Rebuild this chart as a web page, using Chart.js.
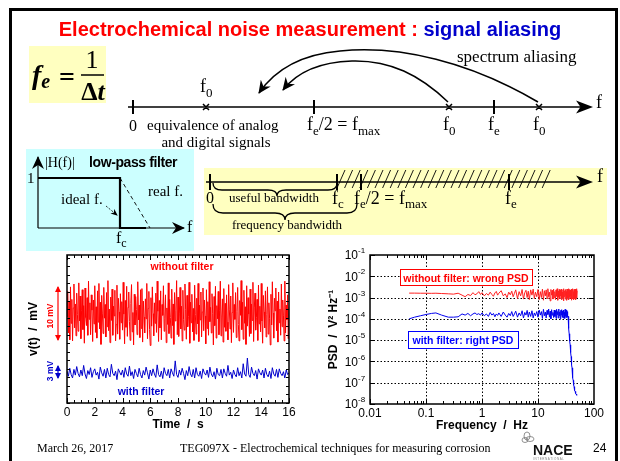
<!DOCTYPE html>
<html>
<head>
<meta charset="utf-8">
<script src="https://cdn.jsdelivr.net/npm/chart.js@4.4.0/dist/chart.umd.min.js"></script>
<style>
  html, body { margin: 0; padding: 0; background: #fff; }
  body { width: 620px; height: 461px; position: relative; overflow: hidden; }
  canvas { position: absolute; }
  #noise { left: 20px; top: 245px; }
  #psd { left: 320px; top: 245px; }
  #deco { position: absolute; left: 0; top: 0; pointer-events: none; }
</style>
</head>
<body>
<canvas id="noise" width="290" height="190"></canvas>
<canvas id="psd" width="290" height="190"></canvas>

<svg id="deco" width="620" height="461" viewBox="0 0 620 461" font-family="'Liberation Serif', 'Times New Roman', serif">
  <defs>
    <marker id="ah" markerUnits="userSpaceOnUse" markerWidth="14" markerHeight="12" refX="12" refY="6" orient="auto">
      <path d="M0,0 L13,6 L0,12 L4,6 Z" fill="#000"/>
    </marker>
    <marker id="ahSmall" markerUnits="userSpaceOnUse" markerWidth="7" markerHeight="6" refX="6" refY="3" orient="auto">
      <path d="M0,0 L7,3 L0,6 L2,3 Z" fill="#000"/>
    </marker>
    <marker id="ahRed" markerUnits="userSpaceOnUse" markerWidth="6" markerHeight="6" refX="5" refY="3" orient="auto-start-reverse">
      <path d="M0,0 L6,3 L0,6 Z" fill="#ff0000"/>
    </marker>
    <marker id="ahBlue" markerUnits="userSpaceOnUse" markerWidth="6" markerHeight="6" refX="5" refY="3" orient="auto-start-reverse">
      <path d="M0,0 L6,3 L0,6 Z" fill="#0000cc"/>
    </marker>
  </defs>

  <!-- slide frame -->
  <rect x="10.5" y="9.5" width="606" height="470" fill="none" stroke="#000" stroke-width="3"/>

  <text x="310" y="36" text-anchor="middle" font-family="'Liberation Sans', Arial, sans-serif" font-weight="bold" font-size="20"><tspan fill="#ff0000">Electrochemical noise measurement : </tspan><tspan fill="#0000cc">signal aliasing</tspan></text>

  <!-- fe = 1 / dt -->
  <rect x="29" y="46" width="77" height="57" fill="#ffffc0"/>
  <text x="32" y="84" font-size="28" font-weight="bold" font-style="italic">f<tspan font-size="20" dy="4">e</tspan></text>
  <text x="59" y="86" font-size="28" font-weight="bold">=</text>
  <text x="92" y="68" font-size="26" text-anchor="middle">1</text>
  <line x1="81" y1="75" x2="104" y2="75" stroke="#000" stroke-width="1.5"/>
  <text x="93" y="100" font-size="26" text-anchor="middle" font-weight="bold">Δ<tspan font-style="italic">t</tspan></text>

  <!-- aliasing axis -->
  <line x1="128" y1="107" x2="582" y2="107" stroke="#000" stroke-width="1.5"/>
  <path d="M593,107 L576,100.5 L580.5,107 L576,113.5 Z" fill="#000"/>
  <text x="596" y="108" font-size="18">f</text>
  <path d="M133,100V114 M314,100V114 M494,100V114" stroke="#000" stroke-width="2"/>
  <path d="M203,104 l6,6 m0,-6 l-6,6 M446,104 l6,6 m0,-6 l-6,6 M536,104 l6,6 m0,-6 l-6,6" stroke="#000" stroke-width="1.5"/>
  <path d="M538,102 C470,62 400,45 340,51 C295,55 272,74 259,93" fill="none" stroke="#000" stroke-width="1.5" marker-end="url(#ah)"/>
  <path d="M448,102 C420,75 390,60 352,61 C320,62 297,72 283,90" fill="none" stroke="#000" stroke-width="1.5" marker-end="url(#ah)"/>
  <text x="457" y="62" font-size="17">spectrum aliasing</text>
  <text x="200" y="92" font-size="18">f<tspan font-size="13" dy="5">0</tspan></text>
  <text x="133" y="131" font-size="16" text-anchor="middle">0</text>
  <text x="147" y="130" font-size="15">equivalence of analog</text>
  <text x="216" y="147" font-size="15" text-anchor="middle">and digital signals</text>
  <text x="307" y="130" font-size="18">f<tspan font-size="13" dy="5">e</tspan><tspan dy="-5">/2 = f</tspan><tspan font-size="13" dy="5">max</tspan></text>
  <text x="443" y="130" font-size="18">f<tspan font-size="13" dy="5">0</tspan></text>
  <text x="488" y="130" font-size="18">f<tspan font-size="13" dy="5">e</tspan></text>
  <text x="533" y="130" font-size="18">f<tspan font-size="13" dy="5">0</tspan></text>

  <!-- low-pass filter inset -->
  <rect x="26" y="149" width="168" height="102" fill="#ccffff"/>
  <line x1="38" y1="228" x2="38" y2="157" stroke="#000" stroke-width="1.2" marker-end="url(#ah)"/>
  <line x1="38" y1="228" x2="184" y2="228" stroke="#000" stroke-width="1.2" marker-end="url(#ah)"/>
  <text x="187" y="232" font-size="16">f</text>
  <text x="45" y="167" font-size="14">|H(f)|</text>
  <text x="89" y="167" font-size="14" font-weight="bold" font-family="'Liberation Sans', Arial, sans-serif" letter-spacing="-0.4">low-pass filter</text>
  <text x="27" y="183" font-size="15">1</text>
  <path d="M38,178 H120 V228 H146" fill="none" stroke="#000" stroke-width="2.2"/>
  <line x1="120" y1="178" x2="150" y2="228" stroke="#000" stroke-width="0.9" stroke-dasharray="4,3"/>
  <text x="148" y="196" font-size="15">real f.</text>
  <text x="61" y="204" font-size="15">ideal f.</text>
  <line x1="106" y1="206" x2="117" y2="215" stroke="#000" stroke-width="0.8" stroke-dasharray="2,1.5" marker-end="url(#ahSmall)"/>
  <text x="116" y="243" font-size="16">f<tspan font-size="12" dy="4">c</tspan></text>

  <!-- bandwidth strip -->
  <rect x="204" y="168" width="403" height="67" fill="#ffffc0"/>
  <g id="hatch" stroke="#000" stroke-width="0.9"></g>
  <line x1="206" y1="182" x2="582" y2="182" stroke="#000" stroke-width="1.5"/>
  <path d="M593,182 L576,175.5 L580.5,182 L576,188.5 Z" fill="#000"/>
  <text x="597" y="182" font-size="18">f</text>
  <path d="M210,174V190 M337,174V190 M361,174V190 M509,174V190" stroke="#000" stroke-width="2"/>
  <path d="M213,183 Q213,190 222,190 H268 Q277,190 277,196 Q277,190 286,190 H328 Q337,190 337,183" fill="none" stroke="#000" stroke-width="1.3"/>
  <path d="M213,204 Q213,213 223,213 H275 Q285,213 285,220 Q285,213 295,213 H347 Q357,213 357,204" fill="none" stroke="#000" stroke-width="1.3"/>
  <text x="210" y="203" font-size="16" text-anchor="middle">0</text>
  <text x="229" y="202" font-size="13">useful bandwidth</text>
  <text x="332" y="204" font-size="18">f<tspan font-size="13" dy="4">c</tspan></text>
  <text x="354" y="204" font-size="18">f<tspan font-size="13" dy="4">e</tspan><tspan dy="-4">/2 = f</tspan><tspan font-size="13" dy="4">max</tspan></text>
  <text x="505" y="204" font-size="18">f<tspan font-size="13" dy="4">e</tspan></text>
  <text x="287" y="229" font-size="13" text-anchor="middle">frequency bandwidth</text>

  <!-- noise chart annotations -->
  <g font-family="'Liberation Sans', Arial, sans-serif" font-weight="bold">
    <text x="182" y="270" font-size="10.5" fill="#ff0000" text-anchor="middle">without filter</text>
    <text x="141" y="395" font-size="10.5" fill="#0000cc" text-anchor="middle">with filter</text>
    <text transform="translate(53,316) rotate(-90)" font-size="8.5" fill="#ff0000" text-anchor="middle">10 mV</text>
    <text transform="translate(53,371) rotate(-90)" font-size="8.5" fill="#0000cc" text-anchor="middle">3 mV</text>
    <line x1="58" y1="287" x2="58" y2="340" stroke="#ff0000" stroke-width="1.2" marker-start="url(#ahRed)" marker-end="url(#ahRed)"/>
    <line x1="58" y1="366" x2="58" y2="378" stroke="#0000cc" stroke-width="1.2" marker-start="url(#ahBlue)" marker-end="url(#ahBlue)"/>

    <rect x="400.5" y="269.5" width="132" height="16" fill="#fff" stroke="#ff0000" stroke-width="1"/>
    <text x="466" y="281.5" font-size="10.5" fill="#ff0000" text-anchor="middle">without filter: wrong PSD</text>
    <rect x="408.5" y="331.5" width="110" height="17" fill="#fff" stroke="#0000ff" stroke-width="1"/>
    <text x="463" y="343.5" font-size="10.5" fill="#0000ff" text-anchor="middle">with filter: right PSD</text>
  </g>

  <!-- footer -->
  <text x="37" y="452" font-size="12">March 26, 2017</text>
  <text x="180" y="452" font-size="12">TEG097X - Electrochemical techniques for measuring corrosion</text>
  <g fill="none" stroke="#777" stroke-width="0.8">
    <ellipse cx="527" cy="436" rx="3" ry="4"/>
    <ellipse cx="530" cy="439" rx="4" ry="2.5"/>
    <ellipse cx="525" cy="440" rx="3" ry="2.5"/>
  </g>
  <text x="533" y="455" font-size="14" font-weight="bold" font-family="'Liberation Sans', Arial, sans-serif" fill="#111">NACE</text>
  <text x="533" y="459.5" font-size="3" font-family="'Liberation Sans', Arial, sans-serif" fill="#888" letter-spacing="0.6">INTERNATIONAL</text>
  <text x="593" y="452" font-size="12" font-family="'Liberation Sans', Arial, sans-serif">24</text>
</svg>

<script>
// hatching over the aliased part of the bandwidth strip
const hatch = document.getElementById('hatch');
for (let xTop = 345; xTop <= 553; xTop += 7.6) {
  const l = document.createElementNS('http://www.w3.org/2000/svg', 'line');
  l.setAttribute('x1', xTop - 8); l.setAttribute('y1', 188);
  l.setAttribute('x2', xTop); l.setAttribute('y2', 170);
  hatch.appendChild(l);
}

// ---- time records v(t) in mV (offset for display), raw every RAW_DT s, filtered every FILTERED_DT s
const RAW_DT = 0.05;
const FILTERED_DT = 0.1;
const noiseRaw = [
  15.2, 19.6, 12.3, 17.9, 11.1, 20.4, 14.0, 18.2, 10.9, 16.7,
  20.9, 13.2, 17.4, 11.8, 19.3, 15.5, 12.6, 21.1, 14.4, 18.8,
  11.3, 16.2, 19.9, 12.9, 17.1, 10.5, 20.2, 15.0, 13.6, 18.5,
  11.9, 21.4, 14.7, 17.6, 12.0, 19.0, 16.3, 10.8, 18.1, 13.9,
  20.6, 12.4, 16.9, 11.4, 19.7, 14.2, 21.0, 13.0, 17.7, 10.3,
  18.9, 15.8, 12.2, 20.3, 14.9, 17.3, 11.6, 19.4, 13.4, 21.5,
  12.7, 16.5, 10.6, 18.6, 14.5, 20.0, 11.9, 17.0, 15.3, 19.8,
  10.9, 13.8, 20.7, 12.1, 18.4, 16.0, 11.2, 19.2, 14.1, 17.8,
  12.8, 21.2, 15.6, 10.4, 18.0, 13.3, 20.5, 11.7, 16.8, 19.5,
  14.3, 11.0, 17.5, 20.8, 12.5, 15.9, 10.2, 19.1, 13.7, 18.7,
  16.4, 12.0, 21.3, 14.6, 17.2, 11.5, 19.9, 13.1, 20.1, 10.7,
  17.9, 15.1, 12.3, 18.3, 14.8, 21.0, 11.3, 16.6, 19.6, 12.9,
  10.1, 18.5, 13.5, 20.4, 15.7, 11.8, 17.6, 14.0, 19.3, 12.4,
  21.4, 16.1, 10.8, 18.0, 13.2, 19.7, 11.1, 17.3, 15.4, 20.6,
  12.6, 14.9, 19.0, 10.6, 16.7, 13.8, 21.1, 12.2, 18.2, 15.0,
  11.4, 20.0, 13.6, 17.4, 10.3, 19.4, 14.4, 16.2, 21.5, 12.0,
  18.6, 11.7, 15.8, 20.3, 13.0, 17.0, 10.9, 19.8, 14.7, 12.8,
  20.9, 16.4, 11.2, 18.9, 13.4, 15.2, 21.2, 10.5, 17.7, 14.1,
  19.1, 12.5, 16.6, 11.0, 20.7, 15.6, 12.1, 18.4, 13.9, 21.0,
  10.8, 17.2, 14.6, 19.5, 11.6, 16.0, 20.2, 12.7, 18.1, 15.3,
  10.4, 19.9, 13.1, 17.8, 11.9, 21.3, 14.3, 16.8, 12.3, 19.2,
  15.7, 10.2, 18.7, 13.6, 20.5, 11.4, 17.1, 14.8, 19.6, 12.0,
  16.3, 21.4, 11.8, 15.1, 18.3, 10.7, 20.1, 13.3, 17.5, 12.6,
  19.0, 14.2, 11.1, 20.8, 16.5, 13.0, 18.8, 10.6, 15.9, 21.1,
  12.4, 17.3, 14.7, 19.4, 11.5, 16.1, 20.3, 13.8, 10.9, 18.0,
  15.4, 21.5, 12.9, 17.7, 11.2, 19.8, 14.0, 16.9, 10.3, 20.6,
  13.5, 18.5, 15.6, 11.7, 20.0, 12.2, 17.4, 14.5, 21.2, 10.8,
  16.7, 19.3, 12.8, 15.0, 18.2, 11.0, 20.7, 13.9, 17.0, 12.5,
  21.0, 14.4, 10.5, 18.9, 16.0, 13.2, 19.7, 11.6, 15.5, 20.4,
  12.1, 17.6, 14.9, 10.2, 19.1, 13.7, 21.3, 15.8, 11.4, 18.4,
  16.2, 20.2, 12.7, 17.9, 10.7, 19.5, 14.1, 16.5, 11.9, 20.9,
  13.4, 18.1, 15.3, 10.9, 21.4, 12.3, 17.2, 14.6, 19.0, 11.3,
  16.8
];
const noiseFiltered = [
  5.6, 4.7, 6.1, 5.0, 4.4, 5.9, 4.9, 6.4, 5.2, 4.6,
  5.8, 4.8, 6.6, 5.1, 4.3, 5.7, 5.0, 6.2, 4.5, 5.5,
  6.0, 4.9, 5.4, 4.2, 6.3, 5.3, 4.7, 5.9, 4.4, 6.1,
  5.0, 4.6, 6.8, 5.2, 4.8, 5.6, 4.1, 6.0, 5.4, 4.9,
  5.8, 4.5, 6.2, 5.1, 4.7, 6.5, 4.8, 5.5, 4.3, 5.9,
  5.2, 4.6, 6.1, 5.0, 4.4, 5.7, 4.9, 6.3, 5.3, 4.2,
  5.8, 4.8, 6.0, 5.1, 4.5, 6.7, 5.0, 4.6, 5.6, 4.3,
  6.2, 5.2, 4.8, 5.9, 4.4, 6.0, 5.3, 4.7, 7.4, 5.0,
  4.5, 5.8, 4.9, 6.1, 5.2, 4.1, 5.7, 4.8, 6.4, 5.1,
  4.6, 5.9, 4.4, 6.2, 5.0, 4.7, 5.6, 4.3, 6.0, 5.3,
  4.9, 5.8, 4.5, 6.3, 5.1, 4.6, 5.5, 4.2, 6.1, 5.0,
  4.8, 5.9, 4.4, 6.0, 5.2, 4.7, 6.6, 4.9, 5.4, 4.3,
  5.8, 5.0, 4.6, 6.2, 4.8, 5.5, 4.4, 6.9, 5.1, 4.7,
  7.9, 5.0, 4.5, 6.3, 5.2, 4.8, 5.7, 4.2, 6.0, 5.3,
  4.9, 5.8, 4.4, 6.1, 5.0, 4.6, 5.6, 4.3, 6.2, 5.1,
  4.7, 5.9, 4.5, 6.0, 5.2, 4.8, 5.5, 4.4, 5.8, 5.0, 5.3
];
const timeTicks = [0, 2, 4, 6, 8, 10, 12, 14, 16];

// ---- power spectral densities (Hz, V^2/Hz)
const psdFreq = [
  0.05, 0.0625, 0.08, 0.1, 0.125, 0.15, 0.19, 0.25, 0.31, 0.375, 0.44, 0.5, 0.56, 0.625, 0.69, 0.75, 0.81, 0.875, 0.94,
  1.0, 1.1, 1.2, 1.3, 1.4, 1.5, 1.6, 1.7, 1.8, 1.9,
  2.0, 2.2, 2.4, 2.6, 2.8, 3.0, 3.2, 3.4, 3.6, 3.8,
  4.0, 4.3, 4.6, 4.9, 5.2, 5.5, 5.8, 6.1, 6.4, 6.7,
  7.0, 7.4, 7.8, 8.2, 8.6, 9.0, 9.5,
  10, 10.5, 11, 11.5, 12, 12.5, 13, 13.5, 14, 14.5,
  15, 15.5, 16, 16.5, 17, 17.5, 18, 18.5, 19, 19.5,
  20, 20.5, 21, 21.5, 22, 22.5, 23, 23.5, 24, 24.5,
  25, 25.5, 26, 26.5, 27, 27.5, 28, 28.5, 29, 29.5,
  30, 30.5, 31, 31.5, 32, 32.5, 33, 33.5, 34, 34.5,
  35, 35.5, 36, 36.5, 37, 37.5, 38, 38.5, 39, 39.5,
  40, 40.5, 41, 41.5, 42, 42.5, 43, 43.5, 44, 44.5,
  45, 45.5, 46, 46.5, 47, 47.5, 48, 48.5, 49, 49.5, 50
];
const psdRaw = [
  1.62e-3, 1.62e-3, 1.6e-3, 1.6e-3, 1.58e-3, 1.6e-3, 1.55e-3, 1.5e-3, 1.45e-3, 1.6e-3, 1.3e-3, 1.1e-3, 1.4e-3, 1.25e-3, 1.7e-3, 1.35e-3, 1.5e-3, 1.9e-3, 1.4e-3,
  1.7e-3, 1.2e-3, 1.55e-3, 1.3e-3, 1.8e-3, 1.4e-3, 1.15e-3, 1.65e-3, 1.95e-3, 1.3e-3,
  1.6e-3, 2.1e-3, 1.2e-3, 1.5e-3, 1.0e-3, 1.8e-3, 1.35e-3, 2.0e-3, 1.1e-3, 1.6e-3,
  2.3e-3, 0.9e-3, 1.9e-3, 1.2e-3, 2.4e-3, 0.85e-3, 1.7e-3, 2.2e-3, 1.0e-3, 2.0e-3,
  0.8e-3, 2.3e-3, 1.3e-3, 2.5e-3, 0.9e-3, 1.8e-3, 1.1e-3,
  2.4e-3, 0.8e-3, 1.9e-3, 1.0e-3, 2.5e-3, 0.75e-3, 2.1e-3, 1.2e-3, 2.3e-3, 0.9e-3,
  2.6e-3, 1.1e-3, 1.8e-3, 0.7e-3, 2.4e-3, 1.3e-3, 2.2e-3, 0.85e-3, 2.5e-3, 1.0e-3,
  1.9e-3, 0.8e-3, 2.3e-3, 1.15e-3, 2.6e-3, 0.75e-3, 2.0e-3, 1.05e-3, 2.4e-3, 0.9e-3,
  2.2e-3, 1.2e-3, 2.5e-3, 0.8e-3, 1.8e-3, 1.0e-3, 2.3e-3, 0.7e-3, 2.6e-3, 1.1e-3,
  2.1e-3, 0.85e-3, 2.4e-3, 1.25e-3, 1.9e-3, 0.75e-3, 2.5e-3, 0.95e-3, 2.2e-3, 1.1e-3,
  2.6e-3, 0.8e-3, 2.0e-3, 1.0e-3, 2.4e-3, 0.9e-3, 2.3e-3, 1.2e-3, 1.8e-3, 0.75e-3,
  2.5e-3, 1.05e-3, 2.1e-3, 0.85e-3, 2.6e-3, 1.15e-3, 1.9e-3, 0.8e-3, 2.4e-3, 1.0e-3,
  2.2e-3, 0.9e-3, 2.5e-3, 1.1e-3, 2.0e-3, 0.8e-3, 2.3e-3, 1.2e-3, 2.6e-3, 0.95e-3, 2.1e-3
];
const psdFiltered = [
  1.0e-4, 1.2e-4, 1.4e-4, 1.6e-4, 1.8e-4, 1.9e-4, 1.5e-4, 1.2e-4, 1.2e-4, 1.25e-4, 1.7e-4, 1.5e-4, 1.8e-4, 1.4e-4, 1.7e-4, 1.9e-4, 1.6e-4, 1.75e-4, 1.5e-4,
  1.9e-4, 1.4e-4, 1.7e-4, 1.3e-4, 2.0e-4, 1.5e-4, 1.8e-4, 1.25e-4, 1.7e-4, 1.45e-4,
  1.9e-4, 1.3e-4, 2.1e-4, 1.5e-4, 1.2e-4, 1.8e-4, 1.4e-4, 2.2e-4, 1.3e-4, 1.7e-4,
  2.3e-4, 1.2e-4, 1.9e-4, 1.4e-4, 2.4e-4, 1.1e-4, 2.0e-4, 1.5e-4, 2.5e-4, 1.2e-4,
  2.1e-4, 1.3e-4, 2.4e-4, 1.1e-4, 1.9e-4, 1.4e-4, 2.2e-4,
  1.2e-4, 2.6e-4, 1.5e-4, 2.2e-4, 1.05e-4, 2.8e-4, 1.4e-4, 2.1e-4, 1.1e-4, 2.5e-4,
  1.6e-4, 2.9e-4, 1.2e-4, 2.3e-4, 1.0e-4, 2.7e-4, 1.5e-4, 2.0e-4, 1.15e-4, 2.6e-4,
  1.3e-4, 2.4e-4, 1.05e-4, 2.8e-4, 1.6e-4, 2.2e-4, 1.1e-4, 2.9e-4, 1.4e-4, 2.1e-4,
  1.0e-4, 2.5e-4, 1.5e-4, 2.7e-4, 1.2e-4, 2.3e-4, 1.1e-4, 2.6e-4, 1.6e-4, 2.0e-4,
  1.05e-4, 2.8e-4, 1.3e-4, 2.4e-4, 1.15e-4, 2.6e-4, 1.5e-4, 2.2e-4, 1.2e-4, 1.3e-4,
  6e-5, 3.5e-5, 2e-5, 1.3e-5, 9e-6, 6e-6, 3.8e-6, 2.6e-6, 1.7e-6, 1.1e-6,
  7e-7, 5e-7, 3.3e-7, 2.4e-7, 1.7e-7, 1.3e-7, 1e-7, 8e-8, 6.5e-8, 5.5e-8,
  4.8e-8, 4.3e-8, 3.9e-8, 3.6e-8, 3.3e-8, 3.1e-8, 2.9e-8, 2.8e-8, 2.7e-8, 2.6e-8, 2.5e-8
];
const freqDecades = [0.01, 0.1, 1, 10, 100];
const psdExponents = [-8, -7, -6, -5, -4, -3, -2, -1];

Chart.defaults.font.family = "'Liberation Sans', Arial, sans-serif";
Chart.defaults.color = '#000';
Chart.defaults.animation = false;

const toXY = (xs, ys) => ys.map((y, i) => ({ x: xs[i], y }));
const rawTimes = noiseRaw.map((_, i) => i * RAW_DT);
const filteredTimes = noiseFiltered.map((_, i) => i * FILTERED_DT);

const noiseFrame = {
  id: 'noiseFrame',
  afterDatasetsDraw(chart) {
    const { ctx, chartArea: a, scales: { x, y } } = chart;
    ctx.save();
    ctx.strokeStyle = '#000';
    ctx.lineWidth = 1;
    ctx.beginPath();
    for (let t = 0; t <= 16; t += 0.5) {
      const px = Math.round(x.getPixelForValue(t)) + 0.5;
      const len = timeTicks.includes(t) ? 5 : 3;
      ctx.moveTo(px, a.bottom); ctx.lineTo(px, a.bottom - len);
      ctx.moveTo(px, a.top); ctx.lineTo(px, a.top + len);
    }
    for (let v = 0; v <= 26; v += 1.5) {
      const py = Math.round(y.getPixelForValue(v)) + 0.5;
      ctx.moveTo(a.left, py); ctx.lineTo(a.left + 3, py);
      ctx.moveTo(a.right, py); ctx.lineTo(a.right - 3, py);
    }
    ctx.stroke();
    ctx.lineWidth = 1.5;
    ctx.strokeRect(a.left, a.top, a.right - a.left, a.bottom - a.top);
    ctx.restore();
  }
};

const psdFrame = {
  id: 'psdFrame',
  beforeDatasetsDraw(chart) {
    const { ctx, chartArea: a, scales: { x, y } } = chart;
    ctx.save();
    ctx.strokeStyle = '#000';
    ctx.lineWidth = 1;
    ctx.setLineDash([1.5, 2]);
    ctx.beginPath();
    freqDecades.slice(1, -1).forEach((f) => {
      const px = Math.round(x.getPixelForValue(f)) + 0.5;
      ctx.moveTo(px, a.top); ctx.lineTo(px, a.bottom);
    });
    psdExponents.slice(1, -1).forEach((k) => {
      const py = Math.round(y.getPixelForValue(Math.pow(10, k))) + 0.5;
      ctx.moveTo(a.left, py); ctx.lineTo(a.right, py);
    });
    ctx.stroke();
    ctx.restore();
  },
  afterDatasetsDraw(chart) {
    const { ctx, chartArea: a, scales: { x, y } } = chart;
    ctx.save();
    ctx.strokeStyle = '#000';
    ctx.lineWidth = 1;
    ctx.beginPath();
    freqDecades.slice(0, -1).forEach((d) => {
      for (let m = 1; m <= 9; m++) {
        const px = Math.round(x.getPixelForValue(d * m)) + 0.5;
        const len = m === 1 ? 5 : 3;
        ctx.moveTo(px, a.bottom); ctx.lineTo(px, a.bottom - len);
        ctx.moveTo(px, a.top); ctx.lineTo(px, a.top + len);
      }
    });
    psdExponents.forEach((k) => {
      const py = Math.round(y.getPixelForValue(Math.pow(10, k))) + 0.5;
      ctx.moveTo(a.left, py); ctx.lineTo(a.left + 5, py);
      ctx.moveTo(a.right, py); ctx.lineTo(a.right - 5, py);
    });
    ctx.stroke();
    ctx.lineWidth = 1.5;
    ctx.strokeRect(a.left, a.top, a.right - a.left, a.bottom - a.top);

    ctx.fillStyle = '#000';
    ctx.textBaseline = 'middle';
    psdExponents.forEach((k) => {
      const py = y.getPixelForValue(Math.pow(10, k)) + 1;
      ctx.font = "12px 'Liberation Sans', Arial, sans-serif";
      ctx.textAlign = 'right';
      ctx.fillText('10', a.left - 12, py);
      ctx.font = "8px 'Liberation Sans', Arial, sans-serif";
      ctx.textAlign = 'left';
      ctx.fillText(String(k), a.left - 12, py - 5);
    });
    ctx.restore();
  }
};

new Chart(document.getElementById('noise'), {
  type: 'line',
  data: {
    datasets: [
      { label: 'without filter', data: toXY(rawTimes, noiseRaw), borderColor: '#ff0000', borderWidth: 1, pointRadius: 0 },
      { label: 'with filter', data: toXY(filteredTimes, noiseFiltered), borderColor: '#0000cc', borderWidth: 1, pointRadius: 0 }
    ]
  },
  options: {
    responsive: false,
    layout: { padding: { top: 10, right: 21, bottom: 0, left: 0 } },
    plugins: { legend: { display: false }, tooltip: { enabled: false } },
    scales: {
      x: {
        type: 'linear', min: 0, max: 16,
        grid: { display: false, drawTicks: false }, border: { display: false },
        ticks: { stepSize: 2, maxRotation: 0, padding: 2, font: { size: 12 } },
        afterBuildTicks: (s) => { s.ticks = timeTicks.map((v) => ({ value: v })); },
        afterFit: (s) => { s.height = 32; },
        title: { display: true, text: 'Time  /  s', font: { size: 12, weight: 'bold' }, padding: { top: 0, bottom: 3.5 } }
      },
      y: {
        min: 0, max: 26,
        grid: { display: false, drawTicks: false }, border: { display: false },
        ticks: { display: false },
        afterFit: (s) => { s.width = 47; },
        title: { display: true, text: 'v(t)  /  mV', font: { size: 12, weight: 'bold' }, padding: { top: 6, bottom: 0 } }
      }
    }
  },
  plugins: [noiseFrame]
});

new Chart(document.getElementById('psd'), {
  type: 'line',
  data: {
    datasets: [
      { label: 'without filter', data: toXY(psdFreq, psdRaw), borderColor: '#ff2020', borderWidth: 1, pointRadius: 0 },
      { label: 'with filter', data: toXY(psdFreq, psdFiltered), borderColor: '#0000ee', borderWidth: 1, pointRadius: 0 }
    ]
  },
  options: {
    responsive: false,
    layout: { padding: { top: 10, right: 16, bottom: 0, left: 0 } },
    plugins: { legend: { display: false }, tooltip: { enabled: false } },
    scales: {
      x: {
        type: 'logarithmic', min: 0.01, max: 100,
        grid: { display: false, drawTicks: false }, border: { display: false },
        ticks: { maxRotation: 0, autoSkip: false, padding: 2, font: { size: 12 }, callback: (v) => String(v) },
        afterBuildTicks: (s) => { s.ticks = freqDecades.map((v) => ({ value: v })); },
        afterFit: (s) => { s.height = 31; },
        title: { display: true, text: 'Frequency  /  Hz', font: { size: 12, weight: 'bold' }, padding: { top: 0, bottom: 2.5 } }
      },
      y: {
        type: 'logarithmic', min: 1e-8, max: 0.1,
        grid: { display: false, drawTicks: false }, border: { display: false },
        ticks: { display: false },
        afterFit: (s) => { s.width = 50; },
        title: { display: true, text: 'PSD  /  V\u00B2 Hz\u207B\u00B9', font: { size: 12, weight: 'bold' }, padding: { top: 6, bottom: 0 } }
      }
    }
  },
  plugins: [psdFrame]
});
</script>
</body>
</html>
